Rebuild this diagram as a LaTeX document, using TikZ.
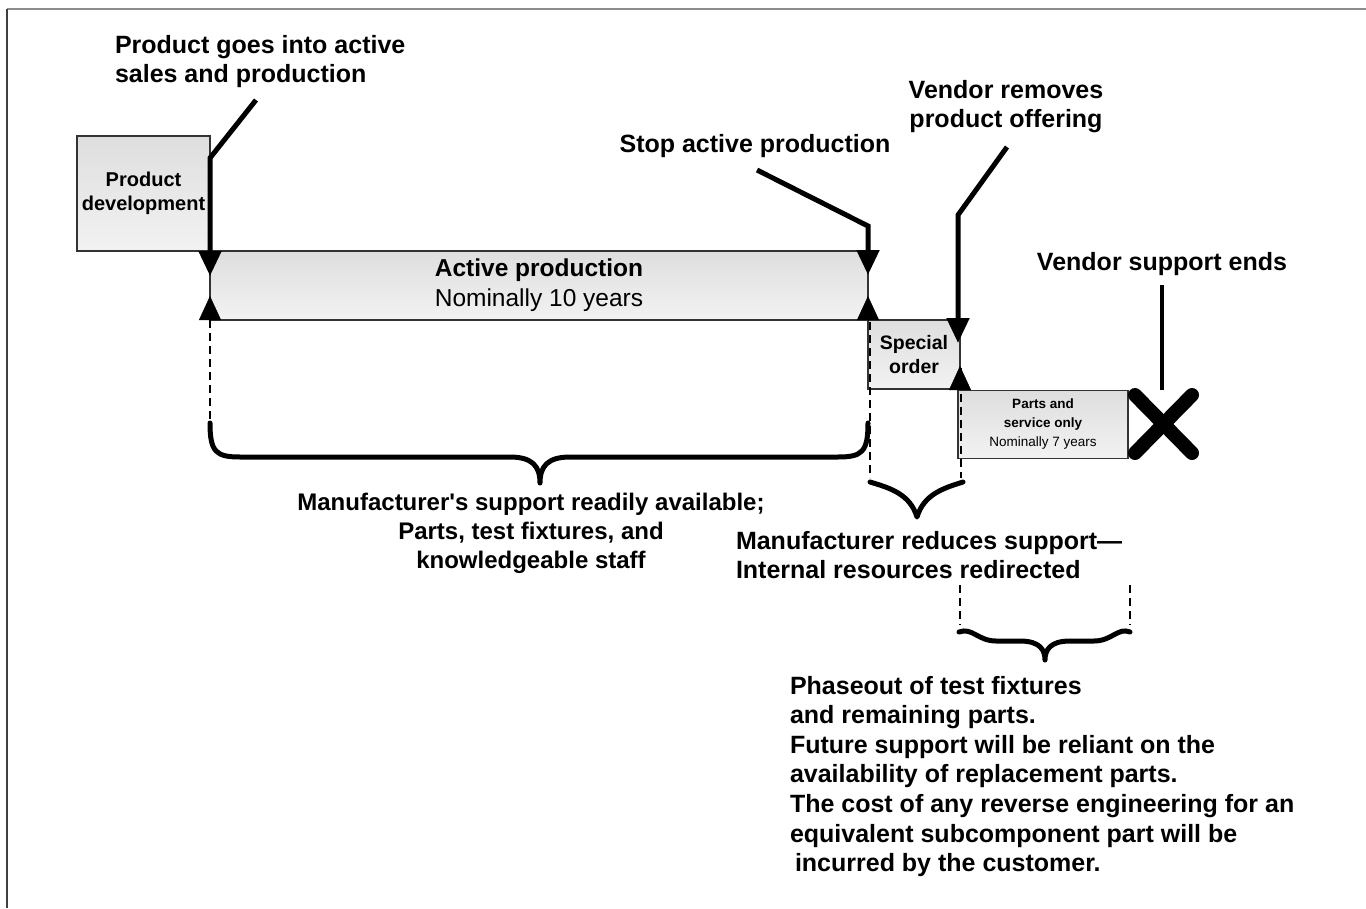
\documentclass[tikz,border=0pt]{standalone}
\usepackage{fontspec}
\setmainfont{Liberation Sans}
\usetikzlibrary{arrows.meta}
\tikzset{
  lbl/.style={font=\bfseries\fontsize{25}{29.6}\selectfont, inner sep=0pt, outer sep=0pt},
  boxa/.style={draw=black!80, line width=1.3pt, inner sep=0pt, outer sep=0pt, top color=black!13, bottom color=black!5},
  conn/.style={line width=5pt},
  tipd/.style={-{Triangle[width=22pt,length=25pt]}},
  tipu/.style={line width=0.5pt, -{Triangle[width=22pt,length=24pt]}},
  dashv/.style={line width=1.4pt, dash pattern=on 8pt off 5pt},
  bracestyle/.style={line width=5pt, line cap=round, line join=round},
}
\begin{document}
\begin{tikzpicture}[x=1pt,y=-1pt]
\useasboundingbox (0,0) rectangle (1366,908);
% frame
\draw[black!45, line width=2pt] (7,9) -- (1366,9);
\draw[black!75, line width=2pt] (7,9) -- (7,908);

% boxes
\node[boxa, minimum width=133pt, minimum height=115pt, align=center,
      font=\bfseries\fontsize{20}{23.5}\selectfont] (pd) at (143.5,193.5) {Product\\development};
\node[boxa, minimum width=658pt, minimum height=69pt, align=center,
      font=\fontsize{24.5}{30}\selectfont] (ap) at (539,285.5) {\textbf{Active production}\\Nominally 10 years};
\node[boxa, minimum width=92pt, minimum height=69pt, align=center,
      font=\bfseries\fontsize{19.5}{24}\selectfont] (so) at (914,354.5) {Special\\order};
\node[boxa, minimum width=170pt, minimum height=68pt, align=center,
      font=\fontsize{13.5}{19}\selectfont] (ps) at (1043,424.5) {\textbf{Parts and}\\\textbf{service only}\\Nominally 7 years};

% labels
\node[lbl, align=left, anchor=north west] (l1) at (115,35) {Product goes into active\\sales and production};
\node[lbl, anchor=base] (l2) at (755,152.5) {Stop active production};
\node[lbl, align=center, anchor=north] (l3) at (1006,80) {Vendor removes\\product offering};
\node[lbl, anchor=base] (l4) at (1162,270) {Vendor support ends};
\node[lbl, align=center, anchor=north, font=\bfseries\fontsize{24}{29.3}\selectfont] (l5) at (531,493) {Manufacturer\textquotesingle s support readily available;\\Parts, test fixtures, and\\knowledgeable staff};
\node[lbl, align=left, anchor=north west] (l6) at (736,531) {Manufacturer reduces support---\\Internal resources redirected};
\node[lbl, align=left, anchor=north west] (l7) at (790,676) {Phaseout of test fixtures\\and remaining parts.\\Future support will be reliant on the\\availability of replacement parts.\\The cost of any reverse engineering for an\\equivalent subcomponent part will be\\\hspace{5pt}incurred by the customer.};

% connector coordinates
\coordinate (a1) at (256,100);
\coordinate (a1k) at (210,158);
\coordinate (a1t) at (210,276);
\coordinate (a2) at (757,170);
\coordinate (a2k) at (868,226);
\coordinate (a2t) at (868,275);
\coordinate (a3) at (1007,147);
\coordinate (a3k) at (958,215);
\coordinate (a3t) at (958,343);
\coordinate (u1) at (210,320);
\coordinate (u1t) at (210,296);
\coordinate (u2) at (868,320);
\coordinate (u2t) at (868,296);
\coordinate (u3) at (960,389);
\coordinate (u3t) at (960,366);

% dashed guides
\draw[dashv] (u1) -- (210,423);
\draw[dashv] (870,322) -- (870,478);
\draw[dashv] (961,368) -- (961,478);
\draw[dashv] (960,585) -- (960,625);
\draw[dashv] (1130,585) -- (1130,625);

% connectors
\draw[conn, tipd] (a1) -- (a1k) -- (a1t);
\draw[conn, tipd] (a2) -- (a2k) -- (a2t);
\draw[conn, tipd] (a3) -- (a3k) -- (a3t);
\draw[tipu] (u1) -- (u1t);
\draw[tipu] (u2) -- (u2t);
\draw[tipu] (u3) -- (u3t);

% vendor support ends
\coordinate (xc) at (1163,424);
\draw[line width=4.5pt] (1162,285) -- (1162,390);
\draw[line width=14pt, line cap=round] (1135,395) -- (1192,453);
\draw[line width=14pt, line cap=round] (1192,395) -- (1135,453);

% braces
\draw[bracestyle] (210,423) .. controls (210,452) and (216,457) .. (240,457) -- (510,457)
   .. controls (532,457) and (540,466) .. (540,483)
   .. controls (540,466) and (548,457) .. (570,457) -- (838,457)
   .. controls (862,457) and (868,452) .. (868,423);
\draw[bracestyle] (870,482) .. controls (890,488) and (910,494) .. (917,517)
   .. controls (924,494) and (944,488) .. (963,482);
\draw[bracestyle] (959,632) .. controls (972,627) and (978,641) .. (996,641) -- (1020,641)
   .. controls (1040,641) and (1045,650) .. (1045,660)
   .. controls (1045,650) and (1050,641) .. (1070,641) -- (1094,641)
   .. controls (1112,641) and (1118,627) .. (1130,632);
\end{tikzpicture}
\end{document}
